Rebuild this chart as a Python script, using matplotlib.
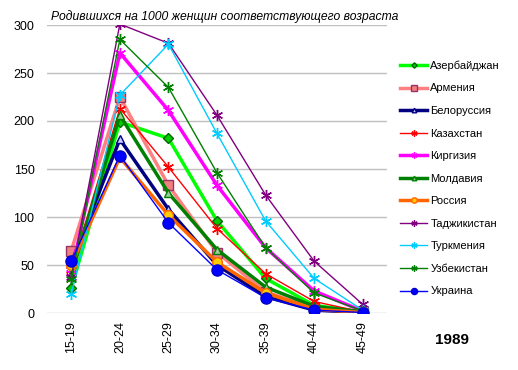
import matplotlib
matplotlib.use('Agg')
import matplotlib.pyplot as plt

plt.rcParams['font.family'] = ['Liberation Sans', 'DejaVu Sans']

ages = ['15-19', '20-24', '25-29', '30-34', '35-39', '40-44', '45-49']

azerbaijan = [26, 199, 182, 96, 36, 8, 1]
armenia = [65, 225, 133, 63, 22, 5, 1]
belarus = [52, 181, 108, 50, 17, 3, 0.5]
kazakhstan = [45, 213, 152, 88, 41, 12, 1]
kyrgyzstan = [42, 271, 211, 133, 68, 23, 2]
moldova = [40, 206, 125, 66, 27, 7, 1]
russia = [50, 162, 102, 53, 21, 4, 0.5]
tajikistan = [38, 301, 281, 206, 123, 54, 9]
turkmenistan = [20, 227, 280, 187, 96, 36, 3]
uzbekistan = [35, 285, 235, 146, 68, 21, 2]
ukraine = [54, 164, 94, 45, 16, 3, 0.5]

#%% стили серий
series = [
    ('Азербайджан', azerbaijan, dict(color='#00ff00', lw=2.5, marker='D', ms=5, mfc='#00cc00', mec='#006600')),
    ('Армения', armenia, dict(color='#ff8080', lw=2.5, marker='s', ms=7, mfc='#f08080', mec='#993366')),
    ('Белоруссия', belarus, dict(color='#000080', lw=2.5, marker='^', ms=6, mfc='#ccccff', mec='#000080')),
    ('Казахстан', kazakhstan, dict(color='#ff0000', lw=1.0, marker=(6, 2, 0), ms=8, mec='#ff0000')),
    ('Киргизия', kyrgyzstan, dict(color='#ff00ff', lw=2.5, marker=(6, 2, 0), ms=8, mec='#ff00ff')),
    ('Молдавия', moldova, dict(color='#008000', lw=2.5, marker='^', ms=6, mfc='#99cc99', mec='#008000')),
    ('Россия', russia, dict(color='#ff6600', lw=2.5, marker='o', ms=7, mfc='#ffcc00', mec='#ff6600')),
    ('Таджикистан', tajikistan, dict(color='#800080', lw=1.0, marker=(6, 2, 0), ms=8, mec='#800080')),
    ('Туркмения', turkmenistan, dict(color='#00ccff', lw=1.0, marker=(6, 2, 0), ms=8, mec='#00ccff')),
    ('Узбекистан', uzbekistan, dict(color='#008000', lw=1.0, marker=(6, 2, 0), ms=8, mec='#008000')),
    ('Украина', ukraine, dict(color='#0000ff', lw=1.0, marker='o', ms=8, mfc='#0000ff', mec='#0000cc')),
]

fig = plt.figure(figsize=(5.18, 3.70), dpi=100)
ax = fig.add_axes([47 / 518, 1 - 313 / 370, 340 / 518, 288 / 370])

x = list(range(len(ages)))
handles = []
for name, vals, st in series:
    h, = ax.plot(x, vals, label=name, **st)
    handles.append(h)

ax.set_xlim(-0.5, len(ages) - 0.5)
ax.set_ylim(0, 300)
ax.set_yticks(range(0, 301, 50))
ax.set_xticks(x)
ax.set_xticklabels(ages, rotation=90, fontsize=9)
ax.tick_params(axis='y', labelsize=9, length=0, pad=9)
ax.tick_params(axis='x', length=0, pad=6)
ax.grid(axis='y', color='#c0c0c0', lw=1)
ax.set_axisbelow(True)
for s in ax.spines.values():
    s.set_visible(False)

fig.text(225 / 518, 1 - 17 / 370, 'Родившихся на 1000 женщин соответствующего возраста',
         ha='center', va='center', fontsize=8.7, style='italic')
fig.text(452 / 518, 1 - 340 / 370, '1989', ha='center', va='center',
         fontsize=11, fontweight='bold')

leg = fig.legend(handles=handles, loc='upper left', bbox_to_anchor=(396 / 518, 1 - 56 / 370),
                 frameon=False, fontsize=8, handlelength=2.4, markerscale=0.55,
                 labelspacing=1.13, handletextpad=0.3, borderaxespad=0)

fig.savefig('out.png', dpi=100)
